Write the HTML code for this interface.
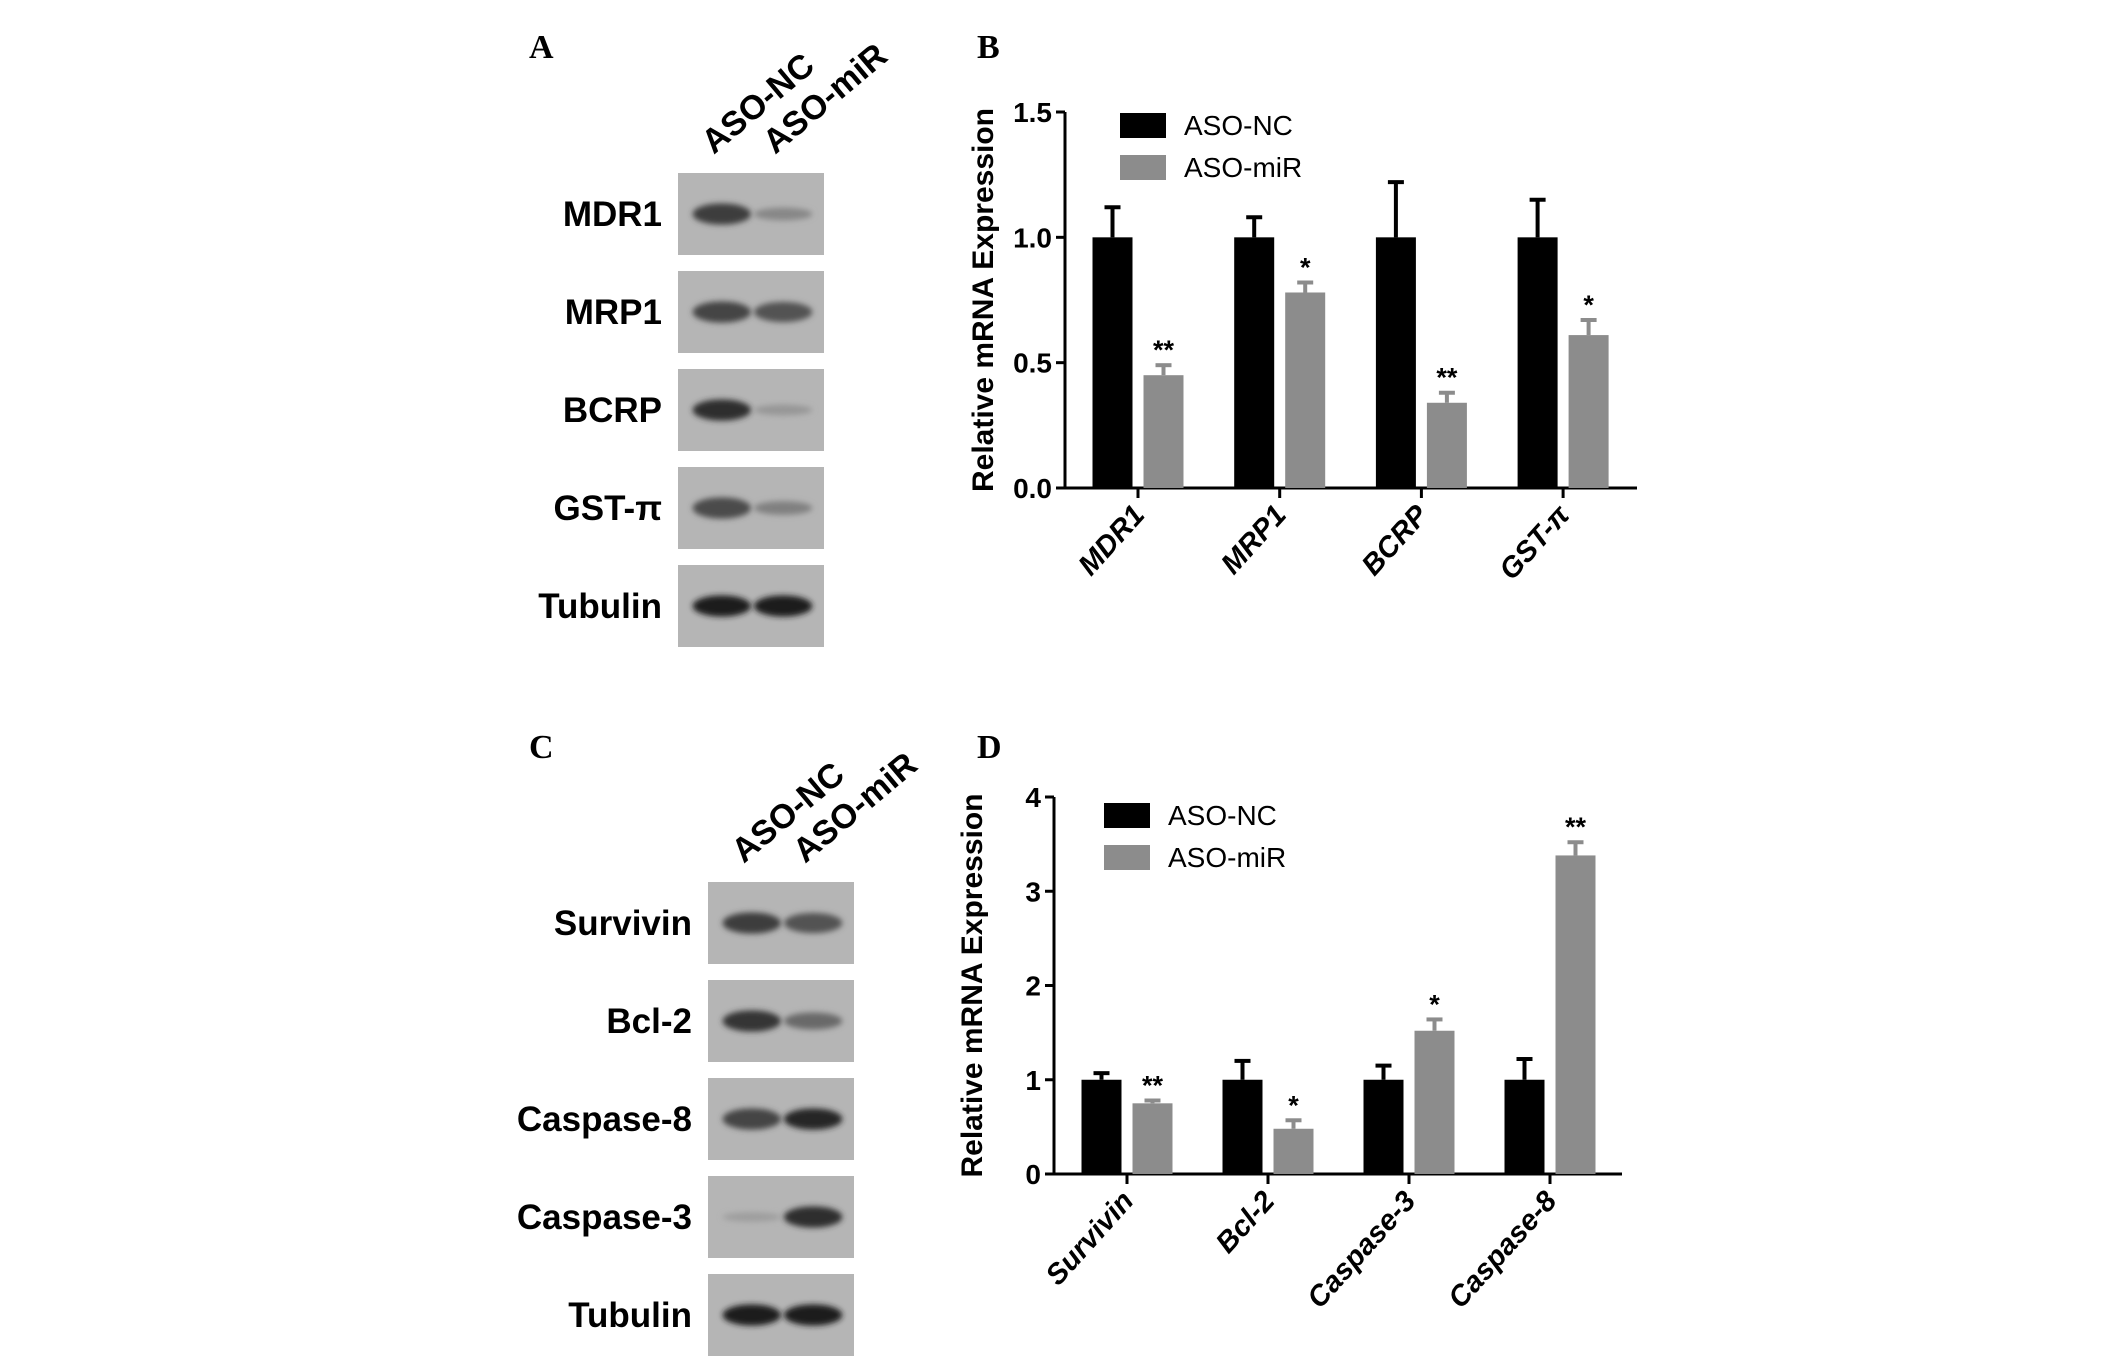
<!DOCTYPE html>
<html><head><meta charset="utf-8"><style>
body{margin:0;background:#fff;}
svg{display:block;font-family:"Liberation Sans",sans-serif;}
</style></head><body>
<svg id="fig" width="2126" height="1356" viewBox="0 0 2126 1356" xmlns="http://www.w3.org/2000/svg">
<defs>
<filter id="blur" x="-20%" y="-50%" width="140%" height="200%"><feGaussianBlur stdDeviation="3"/></filter>
</defs>
<g id="layer"></g>
</svg>
<script>
const NS='http://www.w3.org/2000/svg';
const root=document.getElementById('layer');
function mk(tag,attrs,parent,text){const e=document.createElementNS(NS,tag);for(const k in attrs)e.setAttribute(k,attrs[k]);if(text!==undefined)e.textContent=text;(parent||root).appendChild(e);return e;}

// ---- data ----
const catsB=['MDR1','MRP1','BCRP','GST-π'];
const ncB=[1.0,1.0,1.0,1.0];
const ncErrB=[0.12,0.08,0.22,0.15];
const mirB=[0.45,0.78,0.34,0.61];
const mirErrB=[0.04,0.04,0.04,0.06];
const sigB=['**','*','**','*'];
const ticksB=['0.0','0.5','1.0','1.5'];

const catsD=['Survivin','Bcl-2','Caspase-3','Caspase-8'];
const ncD=[1.0,1.0,1.0,1.0];
const ncErrD=[0.07,0.2,0.15,0.22];
const mirD=[0.75,0.48,1.52,3.38];
const mirErrD=[0.03,0.09,0.12,0.14];
const sigD=['**','*','*','**'];
const ticksD=['0','1','2','3','4'];

const blotA=['MDR1','MRP1','BCRP','GST-π','Tubulin'];
const bandsA=[[0.8,0.3],[0.75,0.65],[0.9,0.2],[0.7,0.35],[1,1]];
const blotC=['Survivin','Bcl-2','Caspase-8','Caspase-3','Tubulin'];
const bandsC=[[0.8,0.65],[0.85,0.5],[0.75,0.95],[0.15,0.9],[1,1]];

// ---- panel letters ----
[['A',529,58],['B',977,58],['C',529,758],['D',977,758]].forEach(([t,x,y])=>{
 const e=mk('text',{x:x,y:y,'font-family':'Liberation Serif,serif','font-weight':'bold','font-size':'34'},root,t);
 
 
});

// ---- blots ----
function blot(labels,bands,x0,y0,w,h,step,tag){
 const g=mk('g',{});
 
 
 [['ASO-NC',x0+w*0.3],['ASO-miR',x0+w*0.72]].forEach(([t,cx])=>{
  const e=mk('text',{x:cx-8,y:y0-18,'font-size':'34','font-weight':'bold',transform:`rotate(-40 ${cx-8} ${y0-18})`},g,t);
  
  
 });
 labels.forEach((l,i)=>{
  const y=y0+i*step;
  const r=mk('rect',{x:x0,y:y,width:w,height:h,fill:'#b5b5b5'},g);
  
  
  bands[i].forEach((v,j)=>{
   const cx=x0+w*(j?0.72:0.3);
   const shade=Math.round(180-150*v);
   const b=mk('ellipse',{cx:cx,cy:y+h*0.5,rx:w*0.2,ry:Math.max(3,h*0.13*Math.min(1,v+0.3)),fill:`rgb(${shade},${shade},${shade})`,filter:'url(#blur)'},g);
   
   
  });
  const t=mk('text',{x:x0-16,y:y+h*0.5+12,'text-anchor':'end','font-size':'35','font-weight':'bold'},g,l);
  
  
 });
}
blot(blotA,bandsA,678,173,146,82,98,'a');
blot(blotC,bandsC,708,882,146,82,98,'c');

// ---- charts ----
function chart(cfg){
 const g=mk('g',{});
 
 
 const ymax=parseFloat(cfg.ticks[cfg.ticks.length-1]);
 const Y=v=>cfg.y0-(v/ymax)*(cfg.y0-cfg.yTop);
 const X=i=>cfg.c0+i*cfg.step;
 const ya=mk('line',{x1:cfg.ax,y1:cfg.yTop,x2:cfg.ax,y2:cfg.y0,stroke:'#000','stroke-width':3},g);
 
 const xa=mk('line',{x1:cfg.ax,y1:cfg.y0,x2:cfg.xEnd,y2:cfg.y0,stroke:'#000','stroke-width':3},g);
 
 cfg.ticks.forEach(t=>{
  const y=Y(parseFloat(t));
  mk('line',{x1:cfg.ax-9,y1:y,x2:cfg.ax,y2:y,stroke:'#000','stroke-width':3},g);
  const e=mk('text',{x:cfg.ax-13,y:y+10,'text-anchor':'end','font-size':'28','font-weight':'bold'},g,t);
  
 });
 const yt=mk('text',{x:0,y:0,'text-anchor':'middle','font-size':'30','font-weight':'bold',transform:`translate(${cfg.ax-72},${(cfg.y0+cfg.yTop)/2}) rotate(-90)`},g,'Relative mRNA Expression');
 
 const bw=40,gap=11;
 cfg.cats.forEach((c,i)=>{
  const cx=X(i);
  mk('line',{x1:cx,y1:cfg.y0,x2:cx,y2:cfg.y0+10,stroke:'#000','stroke-width':3},g);
  const lt=mk('text',{x:0,y:0,'text-anchor':'end','font-size':'29','font-weight':'bold','font-style':'italic',transform:`translate(${cx+8},${cfg.y0+28}) rotate(-48)`},g,c);
  
  const x1=cx-gap/2-bw, x2=cx+gap/2;
  [[x1,cfg.nc[i],cfg.ncErr[i],'#000','aso-nc'],[x2,cfg.mir[i],cfg.mirErr[i],'#8c8c8c','aso-mir']].forEach(([bx,v,er,col,nm])=>{
   const top=Y(v+er), ym=Y(v);
   mk('line',{x1:bx+bw/2,y1:top,x2:bx+bw/2,y2:ym,stroke:col,'stroke-width':4},g);
   mk('line',{x1:bx+bw/2-8,y1:top,x2:bx+bw/2+8,y2:top,stroke:col,'stroke-width':4},g);
   const r=mk('rect',{x:bx,y:ym,width:bw,height:cfg.y0-ym,fill:col},g);
   
   
  });
  const s=mk('text',{x:x2+bw/2,y:Y(cfg.mir[i]+cfg.mirErr[i])-6,'text-anchor':'middle','font-size':'27','font-weight':'bold'},g,cfg.sig[i]);
  
 });
 [['ASO-NC','#000',0],['ASO-miR','#8c8c8c',1]].forEach(([t,col,k])=>{
  const ly=cfg.legY+k*42;
  const r=mk('rect',{x:cfg.legX,y:ly,width:46,height:25,fill:col},g);
  
  const e=mk('text',{x:cfg.legX+64,y:ly+22,'font-size':'28'},g,t);
  
 });
}
chart({tag:'b',cats:catsB,nc:ncB,ncErr:ncErrB,mir:mirB,mirErr:mirErrB,sig:sigB,ticks:ticksB,
 ax:1065,y0:488,yTop:112,xEnd:1637,c0:1138,step:141.7,legX:1120,legY:113});
chart({tag:'d',cats:catsD,nc:ncD,ncErr:ncErrD,mir:mirD,mirErr:mirErrD,sig:sigD,ticks:ticksD,
 ax:1054,y0:1174,yTop:797,xEnd:1622,c0:1127,step:141,legX:1104,legY:803});
</script>
</body></html>
